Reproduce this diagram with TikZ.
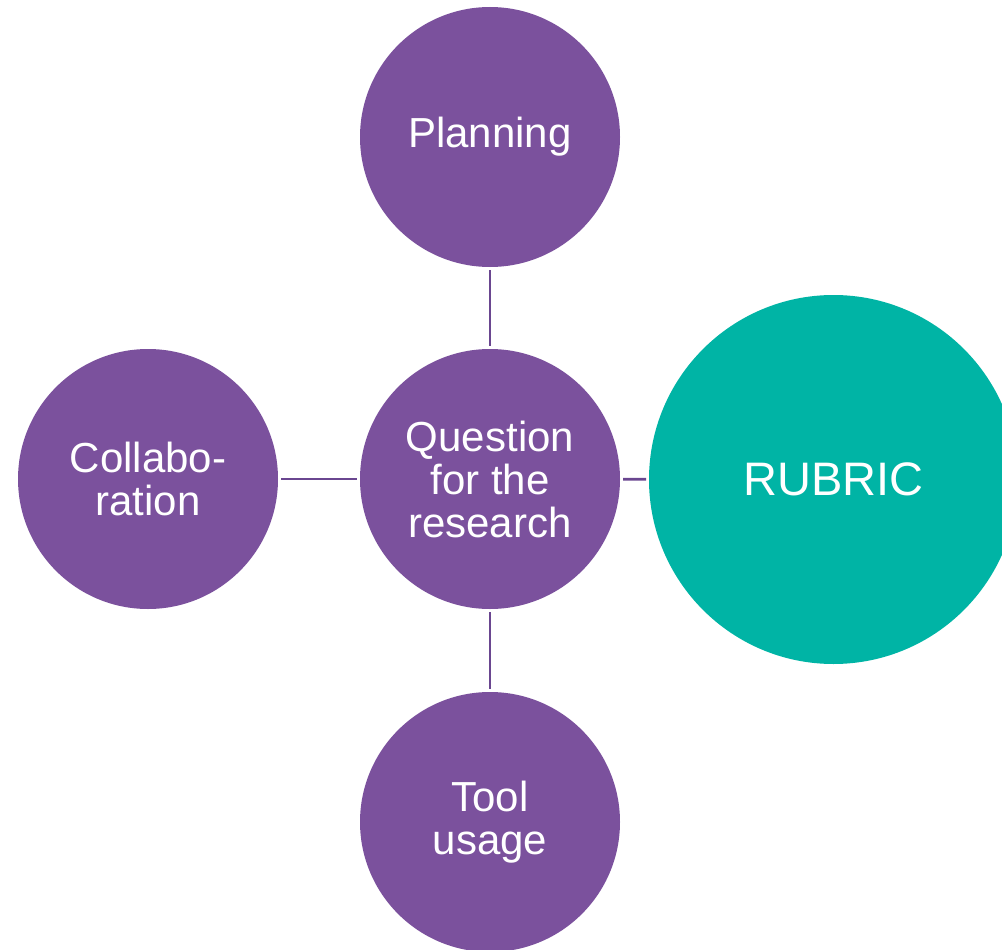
\documentclass[tikz,border=0pt]{standalone}
\usepackage{fontspec}
\setmainfont{Liberation Sans}
\definecolor{bubble}{HTML}{7B519D}
\definecolor{rubric}{HTML}{00B4A5}
\definecolor{link}{HTML}{6A4690}
\begin{document}
\begin{tikzpicture}[x=1pt,y=-1pt,
  bub/.style={circle,fill=bubble,minimum size=260pt,inner sep=0pt,outer sep=0pt,
    text=white,align=center,font=\fontsize{42}{43}\selectfont},
  edge/.style={draw=link,line width=2.8pt,shorten >=3pt,shorten <=3pt}]
  \useasboundingbox (0,0) rectangle (1002,950);
  \node[bub] (quest) at (490,479) {Question\\for the\\research};
  \node[bub] (plan) at (490,137) {\raisebox{-3pt}{Planning}};
  \node[bub] (tool) at (490,822) {\raisebox{-3pt}{Tool}\\\raisebox{-3pt}{usage}};
  \node[bub] (collab) at (148,479) {Collabo-\\ration};
  \node[bub,fill=rubric,minimum size=369pt,font=\fontsize{47}{48}\selectfont]
    (rubric) at (833.5,479.5) {RUBRIC};
  \draw[edge] (plan) -- (quest);
  \draw[edge] (quest) -- (tool);
  \draw[edge] (collab) -- (quest);
  \draw[edge] (quest) -- (rubric);
\end{tikzpicture}
\end{document}
